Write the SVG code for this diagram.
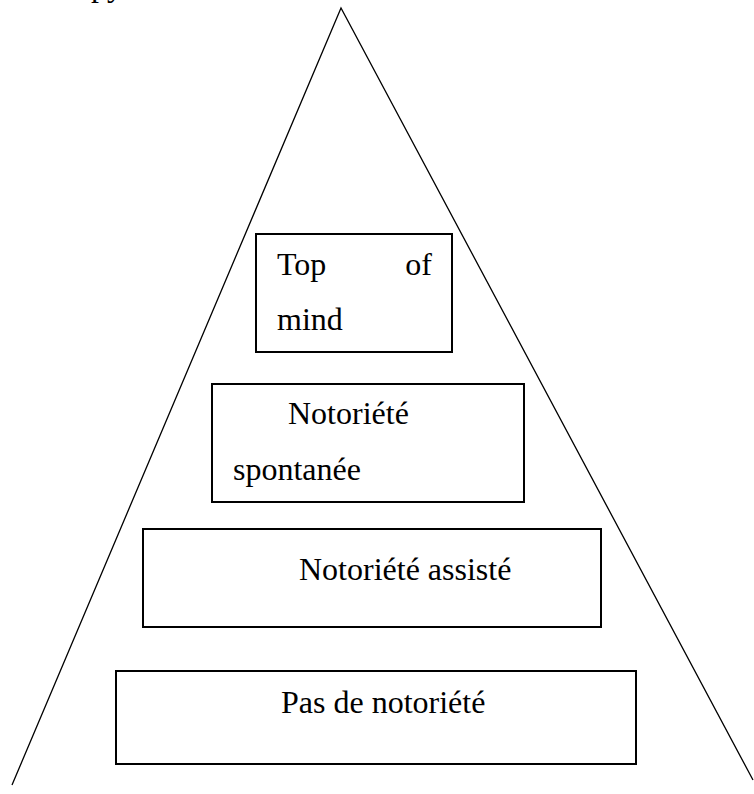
<svg xmlns="http://www.w3.org/2000/svg" width="754" height="794" viewBox="0 0 754 794">
<style>
.box{fill:#fff;stroke:#000;stroke-width:2}
.tri{fill:none;stroke:#000;stroke-width:1.3}
text{font-family:"Liberation Serif","Times New Roman",serif;font-size:32px;fill:#000}
</style>
<rect width="754" height="794" fill="#fff"/>
<text x="91" y="-4">py</text>
<g id="connectors">
<polyline class="tri" points="12,785 341,8 753,780"/>
</g>
<g id="top-of-mind">
<rect class="box" x="256" y="234" width="196" height="118"/>
<text x="277" y="275">Top</text>
<text x="432" y="275" text-anchor="end">of</text>
<text x="277" y="330">mind</text>
</g>
<g id="notoriete-spontanee">
<rect class="box" x="212" y="384" width="312" height="118"/>
<text x="288" y="424">Notoriété</text>
<text x="233" y="480">spontanée</text>
</g>
<g id="notoriete-assiste">
<rect class="box" x="143" y="529" width="458" height="98"/>
<text x="299" y="580">Notoriété assisté</text>
</g>
<g id="pas-de-notoriete">
<rect class="box" x="116" y="671" width="520" height="93"/>
<text x="281" y="713">Pas de notoriété</text>
</g>
</svg>
